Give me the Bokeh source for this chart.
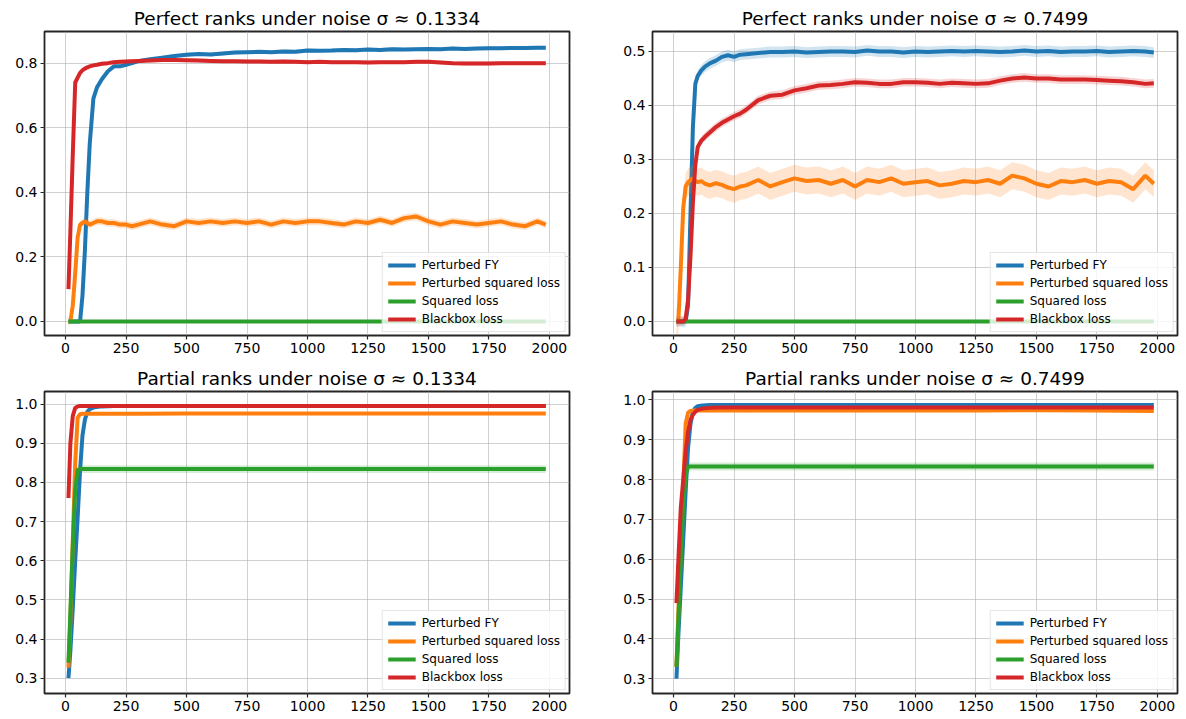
from bokeh.plotting import figure
from bokeh.models import FixedTicker, Legend, LegendItem, Range1d
from bokeh.layouts import column, row
from bokeh.embed import file_html
from bokeh.resources import INLINE

FONT = "DejaVu Sans"
COLORS = ["#1f77b4", "#ff7f0e", "#2ca02c", "#d62728"]
NAMES = ["Perturbed FY", "Perturbed squared loss", "Squared loss", "Blackbox loss"]
TITLES = [
    "Perfect ranks under noise σ ≈ 0.1334",
    "Perfect ranks under noise σ ≈ 0.7499",
    "Partial ranks under noise σ ≈ 0.1334",
    "Partial ranks under noise σ ≈ 0.7499",
]

X_TICKS = [0, 250, 500, 750, 1000, 1250, 1500, 1750, 2000]
X_TICK_LABELS = ["0", "250", "500", "750", "1000", "1250", "1500", "1750", "2000"]
Y_TICKS_TL = [0.0, 0.2, 0.4, 0.6, 0.8]
Y_LABELS_TL = ["0.0", "0.2", "0.4", "0.6", "0.8"]
Y_TICKS_TR = [0.0, 0.1, 0.2, 0.3, 0.4, 0.5]
Y_LABELS_TR = ["0.0", "0.1", "0.2", "0.3", "0.4", "0.5"]
Y_TICKS_B = [0.3, 0.4, 0.5, 0.6, 0.7, 0.8, 0.9, 1.0]
Y_LABELS_B = ["0.3", "0.4", "0.5", "0.6", "0.7", "0.8", "0.9", "1.0"]

# ---- iterations (x) ----
X_TOP = [12, 20, 30, 40, 50, 60, 70, 80, 90, 100, 115, 130, 150, 175, 200, 225, 250, 275, 300,
         350, 400, 450, 500, 550, 600, 650, 700, 750, 800,
         850, 900, 950, 1000, 1050, 1100, 1150, 1200, 1250, 1300,
         1350, 1400, 1450, 1500, 1550, 1600, 1650, 1700, 1750, 1800,
         1850, 1900, 1950, 1985]
X_FLAT = [12, 1985]
X_BOT = [12, 20, 30, 40, 50, 60, 70, 80, 90, 100, 120, 150, 200, 300, 500, 750, 1000, 1250, 1500, 1750, 1985]

# ---- top-left: perfect ranks, sigma 0.1334 ----
TL_FY = [0, 0, 0, 0, 0, 0.0, 0.08, 0.22, 0.40, 0.55, 0.69, 0.725, 0.75, 0.775, 0.79, 0.79, 0.795, 0.80, 0.806,
         0.812, 0.817, 0.822, 0.826, 0.828, 0.827, 0.83, 0.833, 0.834, 0.835,
         0.834, 0.836, 0.835, 0.839, 0.838, 0.839, 0.841, 0.84, 0.842, 0.841,
         0.843, 0.842, 0.843, 0.844, 0.843, 0.845, 0.844, 0.845, 0.846, 0.846,
         0.847, 0.847, 0.848, 0.848]
TL_PSQ = [0, 0, 0.05, 0.15, 0.26, 0.30, 0.305, 0.31, 0.305, 0.30, 0.305, 0.31, 0.31, 0.305, 0.305, 0.30, 0.30, 0.295, 0.30,
          0.31, 0.30, 0.295, 0.31, 0.305, 0.31, 0.305, 0.31, 0.305, 0.31,
          0.30, 0.31, 0.305, 0.31, 0.31, 0.305, 0.30, 0.31, 0.305, 0.315,
          0.305, 0.32, 0.325, 0.31, 0.30, 0.31, 0.305, 0.30, 0.305, 0.31,
          0.30, 0.295, 0.31, 0.30]
TL_SQ = [0.0, 0.0]
TL_BB = [0.10, 0.28, 0.52, 0.74, 0.755, 0.77, 0.778, 0.783, 0.787, 0.79, 0.793, 0.795, 0.798, 0.80, 0.803, 0.804, 0.805, 0.806, 0.807,
         0.808, 0.81, 0.81, 0.809, 0.808, 0.807, 0.806, 0.806, 0.805, 0.805,
         0.804, 0.805, 0.804, 0.803, 0.804, 0.803, 0.803, 0.803, 0.802, 0.803,
         0.803, 0.803, 0.804, 0.804, 0.802, 0.80, 0.799, 0.799, 0.799, 0.80,
         0.80, 0.80, 0.80, 0.80]
TL_STD = [0.006, 0.012, 0.003, 0.006]

# ---- top-right: perfect ranks, sigma 0.7499 ----
TR_FY = [0, 0, 0, 0, 0, 0.03, 0.2, 0.36, 0.44, 0.455, 0.465, 0.472, 0.478, 0.483, 0.49, 0.493, 0.49, 0.494, 0.495,
         0.497, 0.499, 0.499, 0.50, 0.498, 0.499, 0.50, 0.50, 0.499, 0.502,
         0.50, 0.50, 0.498, 0.50, 0.499, 0.50, 0.501, 0.50, 0.501, 0.50,
         0.499, 0.50, 0.502, 0.50, 0.501, 0.499, 0.50, 0.50, 0.501, 0.499,
         0.50, 0.501, 0.50, 0.498]
TR_PSQ = [0, 0, 0.1, 0.21, 0.25, 0.258, 0.262, 0.265, 0.26, 0.258, 0.26, 0.255, 0.252, 0.256, 0.253, 0.248, 0.245, 0.25, 0.252,
          0.262, 0.25, 0.258, 0.265, 0.26, 0.262, 0.255, 0.262, 0.25, 0.262,
          0.258, 0.265, 0.255, 0.258, 0.26, 0.252, 0.255, 0.26, 0.258, 0.262,
          0.255, 0.27, 0.265, 0.255, 0.25, 0.26, 0.258, 0.262, 0.255, 0.26,
          0.258, 0.245, 0.27, 0.255]
TR_SQ = [0.0, 0.0]
TR_BB = [0, 0, 0, 0, 0.005, 0.04, 0.12, 0.22, 0.29, 0.323, 0.335, 0.342, 0.35, 0.36, 0.368, 0.374, 0.38, 0.385, 0.392,
         0.41, 0.418, 0.42, 0.428, 0.432, 0.437, 0.438, 0.44, 0.443, 0.442,
         0.44, 0.44, 0.443, 0.443, 0.442, 0.44, 0.442, 0.441, 0.44, 0.441,
         0.446, 0.45, 0.452, 0.45, 0.45, 0.448, 0.448, 0.448, 0.447, 0.446,
         0.445, 0.443, 0.44, 0.441]
TR_STD = [0.01, 0.025, 0.003, 0.008]

# ---- bottom-left: partial ranks, sigma 0.1334 ----
BL_FY = [0.30, 0.37, 0.48, 0.60, 0.71, 0.83, 0.92, 0.96, 0.98, 0.987, 0.992, 0.994, 0.995, 0.995,
         0.995, 0.995, 0.995, 0.995, 0.995, 0.995, 0.995]
BL_PSQ = [0.327, 0.45, 0.65, 0.85, 0.965, 0.974, 0.975, 0.975, 0.975, 0.975, 0.975, 0.975, 0.975, 0.975,
          0.976, 0.976, 0.976, 0.976, 0.976, 0.976, 0.976]
BL_SQ = [0.34, 0.47, 0.64, 0.78, 0.832, 0.834, 0.834, 0.834, 0.834, 0.834, 0.834, 0.834, 0.834, 0.834,
         0.834, 0.834, 0.834, 0.834, 0.834, 0.834, 0.834]
BL_BB = [0.76, 0.90, 0.97, 0.99, 0.994, 0.995, 0.995, 0.995, 0.995, 0.995, 0.995, 0.995, 0.995, 0.995,
         0.995, 0.995, 0.995, 0.995, 0.995, 0.995, 0.995]
BL_STD = [0.003, 0.003, 0.01, 0.002]

# ---- bottom-right: partial ranks, sigma 0.7499 ----
BR_FY = [0.30, 0.41, 0.53, 0.65, 0.77, 0.88, 0.94, 0.97, 0.98, 0.984, 0.986, 0.987, 0.987, 0.987,
         0.987, 0.987, 0.987, 0.987, 0.987, 0.987, 0.987]
BR_PSQ = [0.33, 0.47, 0.62, 0.78, 0.94, 0.968, 0.972, 0.973, 0.973, 0.973, 0.974, 0.973, 0.974, 0.973,
          0.974, 0.973, 0.974, 0.973, 0.974, 0.973, 0.972]
BR_SQ = [0.33, 0.45, 0.60, 0.73, 0.81, 0.833, 0.833, 0.833, 0.833, 0.833, 0.833, 0.833, 0.833, 0.833,
         0.833, 0.833, 0.833, 0.833, 0.833, 0.833, 0.833]
BR_BB = [0.49, 0.60, 0.73, 0.80, 0.87, 0.92, 0.95, 0.963, 0.97, 0.975, 0.978, 0.98, 0.981, 0.981,
         0.981, 0.981, 0.981, 0.981, 0.981, 0.981, 0.981]
BR_STD = [0.003, 0.004, 0.01, 0.003]

X_RANGE = (-87, 2083)


def panel(title, xs, ys, stds, y_range, yticks, ylabels, width, height, bl, br, bt, bb):
    p = figure(width=width, height=height, output_backend="svg", toolbar_location=None,
               x_range=Range1d(*X_RANGE), y_range=Range1d(*y_range), title=title,
               min_border_left=bl, min_border_right=br, min_border_top=bt, min_border_bottom=bb,
               background_fill_color="white", border_fill_color="white")
    p.title.align = "center"
    p.title.text_font = FONT
    p.title.text_font_size = "18.5px"
    p.title.text_font_style = "normal"
    p.title.text_color = "#000000"
    p.title.standoff = 6

    p.xaxis.ticker = FixedTicker(ticks=X_TICKS)
    p.xaxis.major_label_overrides = {t: l for t, l in zip(X_TICKS, X_TICK_LABELS)}
    p.yaxis.ticker = FixedTicker(ticks=yticks)
    p.yaxis.major_label_overrides = {t: l for t, l in zip(yticks, ylabels)}
    for ax in (p.xaxis, p.yaxis):
        ax.axis_line_color = None
        ax.major_tick_line_color = "#262626"
        ax.major_tick_line_width = 1.2
        ax.major_tick_out = 4
        ax.major_tick_in = 0
        ax.minor_tick_line_color = None
        ax.major_label_text_font = FONT
        ax.major_label_text_font_size = "14px"
        ax.major_label_text_color = "#000000"
        ax.major_label_standoff = 3
    p.grid.grid_line_color = "#b0b0b0"
    p.grid.grid_line_alpha = 0.6
    p.grid.grid_line_width = 1
    p.outline_line_color = "#262626"
    p.outline_line_width = 1.8

    items = []
    for i in range(4):
        x, y, s = xs[i], ys[i], stds[i]
        lo = [v - s for v in y]
        hi = [v + s for v in y]
        p.varea(x=x, y1=lo, y2=hi, fill_color=COLORS[i], fill_alpha=0.2)
        r = p.line(x, y, line_color=COLORS[i], line_width=4)
        items.append(LegendItem(label=NAMES[i], renderers=[r]))
    leg = Legend(items=items, location="bottom_right")
    leg.label_text_font = FONT
    leg.label_text_font_size = "12px"
    leg.label_text_color = "#000000"
    leg.glyph_width = 28
    leg.glyph_height = 14
    leg.label_height = 14
    leg.label_standoff = 6
    leg.spacing = 4
    leg.padding = 5
    leg.margin = 3
    leg.border_line_color = "#cccccc"
    leg.border_line_width = 1
    leg.background_fill_alpha = 0.8
    p.add_layout(leg)
    return p


p1 = panel(TITLES[0], [X_TOP, X_TOP, X_FLAT, X_TOP], [TL_FY, TL_PSQ, TL_SQ, TL_BB], TL_STD,
           (-0.0435, 0.898), Y_TICKS_TL, Y_LABELS_TL, 598, 362, 44, 29, 31, 27)
p2 = panel(TITLES[1], [X_TOP, X_TOP, X_FLAT, X_TOP], [TR_FY, TR_PSQ, TR_SQ, TR_BB], TR_STD,
           (-0.026, 0.537), Y_TICKS_TR, Y_LABELS_TR, 588, 362, 54, 9, 31, 27)
p3 = panel(TITLES[2], [X_BOT] * 4, [BL_FY, BL_PSQ, BL_SQ, BL_BB], BL_STD,
           (0.261, 1.032), Y_TICKS_B, Y_LABELS_B, 598, 356, 44, 29, 28, 25)
p4 = panel(TITLES[3], [X_BOT] * 4, [BR_FY, BR_PSQ, BR_SQ, BR_BB], BR_STD,
           (0.263, 1.021), Y_TICKS_B, Y_LABELS_B, 588, 356, 54, 9, 28, 25)

layout = column(row(p1, p2), row(p3, p4))
open("out.html", "w").write(file_html(layout, INLINE))
